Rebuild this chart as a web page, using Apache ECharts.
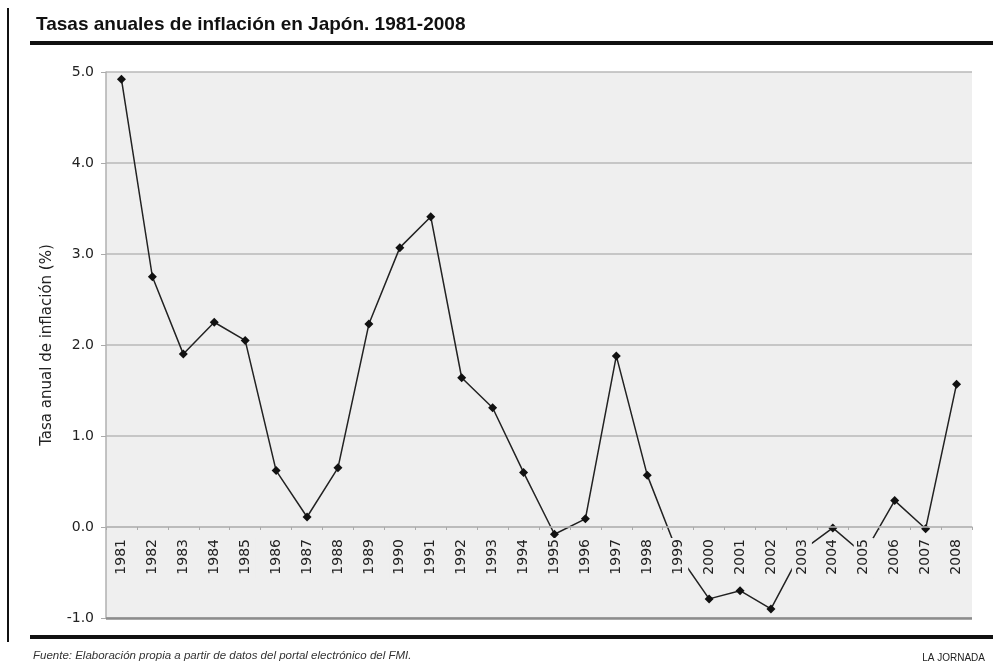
<!DOCTYPE html>
<html>
<head>
<meta charset="utf-8">
<title>Tasas anuales de inflación en Japón</title>
<script src="https://cdn.jsdelivr.net/npm/echarts@6/dist/echarts.min.js"></script>
<style>
  html, body { margin: 0; padding: 0; background: #fff; }
  #chart { width: 993px; height: 664px; }
</style>
</head>
<body>
<div id="chart"></div>
<script>
  var years = ['1981','1982','1983','1984','1985','1986','1987','1988','1989','1990',
               '1991','1992','1993','1994','1995','1996','1997','1998','1999','2000',
               '2001','2002','2003','2004','2005','2006','2007','2008'];
  var inflation = [4.92, 2.75, 1.90, 2.25, 2.05, 0.62, 0.11, 0.65, 2.23, 3.07,
                   3.41, 1.64, 1.31, 0.60, -0.08, 0.09, 1.88, 0.57, -0.30, -0.79,
                   -0.70, -0.90, -0.26, -0.01, -0.30, 0.29, -0.02, 1.57];
  var yTicks = [-1, 0, 1, 2, 3, 4, 5];

  var chart = echarts.init(document.getElementById('chart'));
  var font = '"Liberation Sans", Arial, sans-serif';
  var axisFont = '"DejaVu Sans", sans-serif';

  var option = {
    animation: false,
    textStyle: { fontFamily: font },
    title: {
      text: 'Tasas anuales de inflación en Japón. 1981-2008',
      left: 31,
      top: 10,
      textStyle: { fontSize: 19, fontWeight: 'bold', color: '#111', fontFamily: font }
    },
    grid: {
      left: 106,
      right: 21,
      top: 72,
      bottom: 46,
      show: true,
      backgroundColor: '#efefef',
      borderWidth: 0
    },
    xAxis: {
      // axis moved up to the zero line (plot is 546px for 6 units -> 91px)
      type: 'category',
      data: years,
      z: 3,
      offset: -91,
      axisLine: { onZero: false, lineStyle: { color: '#b8b8b8', width: 1.5 } },
      axisTick: { show: true, length: 3, lineStyle: { color: '#aaa' } },
      axisLabel: {
        rotate: 90,
        margin: 11,
        fontSize: 14,
        fontFamily: axisFont,
        color: '#222',
        backgroundColor: '#efefef',
        padding: [3, 1, 3, 4]
      },
      splitLine: { show: false }
    },
    yAxis: {
      type: 'value',
      min: yTicks[0],
      max: yTicks[yTicks.length - 1],
      interval: 1,
      name: 'Tasa anual de inflación (%)',
      nameLocation: 'middle',
      nameGap: 51,
      nameTextStyle: { fontSize: 15, color: '#222', fontFamily: axisFont },
      axisLine: { show: true, lineStyle: { color: '#b0b0b0', width: 1.5 } },
      axisTick: { show: true, length: 5, lineStyle: { color: '#aaa' } },
      axisLabel: {
        fontSize: 14,
        fontFamily: axisFont,
        color: '#222',
        margin: 12,
        formatter: function (v) { return v.toFixed(1); }
      },
      splitLine: { show: true, lineStyle: { color: '#b9b9b9', width: 1.5 } }
    },
    series: [
      {
        type: 'line',
        data: inflation,
        symbol: 'diamond',
        symbolSize: 9,
        itemStyle: { color: '#111' },
        lineStyle: { color: '#222', width: 1.5 },
        z: 2,
        // darker bottom border of the plot at -1.0
        markLine: {
          silent: true,
          symbol: 'none',
          label: { show: false },
          lineStyle: { color: '#8c8c8c', width: 2.5, type: 'solid' },
          data: [{ yAxis: yTicks[0] }]
        }
      }
    ],
    graphic: [
      { type: 'rect', shape: { x: 7, y: 8, width: 2, height: 634 }, style: { fill: '#111' } },
      { type: 'rect', shape: { x: 30, y: 41, width: 963, height: 4 }, style: { fill: '#111' } },
      { type: 'rect', shape: { x: 30, y: 635, width: 963, height: 4 }, style: { fill: '#111' } },
      {
        type: 'text', left: 33, top: 650,
        style: {
          text: 'Fuente: Elaboración propia a partir de datos del portal electrónico del FMI.',
          font: 'italic 11.5px ' + font, fill: '#333'
        }
      },
      {
        type: 'text', right: 8, top: 653,
        style: { text: 'LA JORNADA', font: '10px ' + font, fill: '#222' }
      }
    ]
  };

  chart.setOption(option);
</script>
</body>
</html>
